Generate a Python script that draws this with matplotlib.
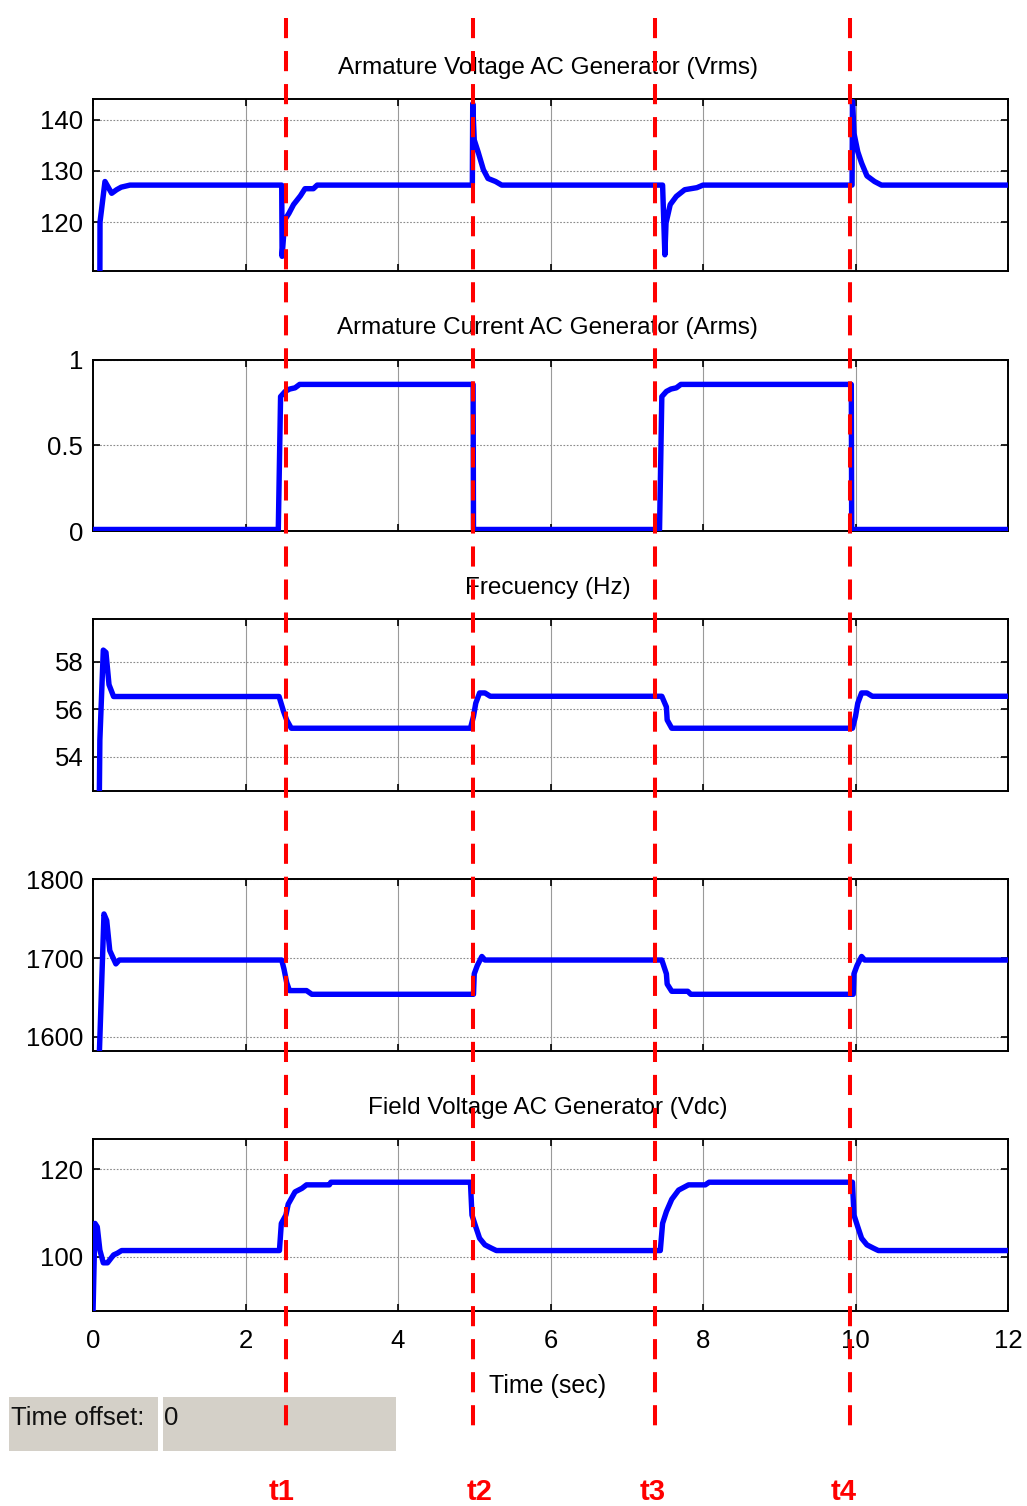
import matplotlib
matplotlib.use("Agg")
import matplotlib.pyplot as plt
from matplotlib.lines import Line2D
from matplotlib.patches import Rectangle
from matplotlib.transforms import blended_transform_factory

plt.rcParams["font.family"] = ["Liberation Sans Narrow", "Liberation Sans", "DejaVu Sans"]

# ---- measured signals (time in seconds) ----
voltage_t = [0.09, 0.092, 0.157, 0.245, 0.31, 0.37, 0.485,
             2.475, 2.48, 2.515, 2.57, 2.63, 2.72, 2.78, 2.89, 2.94,
             4.975, 4.98, 5.00, 5.05, 5.12, 5.18, 5.28, 5.36,
             7.47, 7.50, 7.515, 7.57, 7.65, 7.76, 7.92, 8.00,
             9.955, 9.96, 9.98, 10.03, 10.08, 10.15, 10.25, 10.34, 12.0]
voltage_v = [108.0, 120.0, 127.9, 125.6, 126.3, 126.8, 127.2,
             127.2, 113.3, 120.4, 121.7, 123.4, 125.1, 126.5, 126.5, 127.2,
             127.2, 143.1, 136.0, 133.7, 130.2, 128.5, 127.9, 127.2,
             127.2, 113.6, 119.8, 123.4, 125.0, 126.3, 126.7, 127.2,
             127.2, 143.6, 137.3, 133.7, 131.5, 129.0, 127.9, 127.2, 127.2]

current_t = [0.0, 2.43, 2.46, 2.52, 2.58, 2.65, 2.71, 4.985, 4.99,
             7.43, 7.46, 7.52, 7.58, 7.65, 7.71, 9.945, 9.95, 12.0]
current_v = [0.01, 0.01, 0.784, 0.814, 0.828, 0.835, 0.855, 0.855, 0.01,
             0.01, 0.784, 0.814, 0.828, 0.835, 0.855, 0.855, 0.01, 0.01]

freq_t = [0.083, 0.09, 0.135, 0.17, 0.21, 0.27,
          2.44, 2.50, 2.54, 2.60,
          4.95, 4.99, 5.02, 5.07, 5.14, 5.21,
          7.46, 7.52, 7.53, 7.59,
          9.96, 10.00, 10.03, 10.08, 10.15, 10.22, 12.0]
freq_v = [52.3, 54.7, 58.5, 58.4, 57.04, 56.54,
          56.54, 55.9, 55.55, 55.2,
          55.2, 55.7, 56.26, 56.69, 56.69, 56.55,
          56.55, 56.1, 55.55, 55.2,
          55.2, 55.7, 56.26, 56.69, 56.69, 56.55, 56.55]

speed_t = [0.083, 0.144, 0.18, 0.22, 0.30, 0.345,
           2.475, 2.505, 2.54, 2.576, 2.80, 2.87,
           4.99, 5.00, 5.04, 5.10, 5.14,
           7.46, 7.52, 7.53, 7.59, 7.80, 7.84,
           9.97, 9.98, 10.02, 10.08, 10.12, 12.0]
speed_v = [1578, 1756, 1747.6, 1709.5, 1692.6, 1697.5,
           1697.5, 1686, 1669, 1658.7, 1658.7, 1654,
           1654, 1680, 1690.5, 1702, 1697.5,
           1697.5, 1680, 1667, 1657.8, 1657.8, 1654,
           1654, 1680, 1690.5, 1702, 1697.5, 1697.5]

field_t = [0.0, 0.026, 0.056, 0.09, 0.135, 0.19, 0.27, 0.32, 0.375,
           2.445, 2.47, 2.53, 2.56, 2.65, 2.74, 2.80, 3.10, 3.12,
           4.95, 4.97, 5.02, 5.07, 5.14, 5.23, 5.29,
           7.44, 7.47, 7.52, 7.59, 7.68, 7.81, 8.03, 8.08,
           9.96, 9.98, 10.03, 10.08, 10.15, 10.24, 10.30, 12.0]
field_v = [87.0, 107.6, 106.8, 101.5, 98.6, 98.6, 100.4, 100.8, 101.4,
           101.4, 107.6, 109.5, 112.0, 114.8, 115.6, 116.4, 116.4, 117.0,
           117.0, 109.5, 106.8, 104.2, 102.7, 101.9, 101.4,
           101.4, 107.6, 110.3, 113.1, 115.2, 116.4, 116.4, 117.0,
           117.0, 109.5, 106.8, 104.2, 102.7, 101.9, 101.4, 101.4]

# switching events
event_times = [2.53, 4.98, 7.37, 9.93]
event_labels = ["t1", "t2", "t3", "t4"]

panel_titles = ["Armature Voltage AC Generator (Vrms)",
                "Armature Current AC Generator (Arms)",
                "Frecuency (Hz)",
                "",
                "Field Voltage AC Generator (Vdc)"]
panel_yticks = [[120, 130, 140], [0, 0.5, 1], [54, 56, 58], [1600, 1700, 1800], [100, 120]]
panel_yticklabels = [["120", "130", "140"], ["0", "0.5", "1"], ["54", "56", "58"],
                     ["1600", "1700", "1800"], ["100", "120"]]
x_ticks = [0, 2, 4, 6, 8, 10, 12]

# ---- layout (figure pixels) ----
W, H = 1027, 1506
fig = plt.figure(figsize=(W / 100, H / 100), dpi=100)
fig.patch.set_facecolor("white")

ax_left, ax_right = 93, 1008
panel_tops = [99, 359.5, 619.3, 879.3, 1139.3]
panel_h = 171.7
ylims = [(110.5, 144.0), (0.0, 1.0), (52.55, 59.8), (1582, 1800), (87.6, 126.8)]

series = [(voltage_t, voltage_v), (current_t, current_v), (freq_t, freq_v),
          (speed_t, speed_v), (field_t, field_v)]

axes = []
for i, top in enumerate(panel_tops):
    ax = fig.add_axes([ax_left / W, 1 - (top + panel_h) / H,
                       (ax_right - ax_left) / W, panel_h / H])
    axes.append(ax)
    t, v = series[i]
    ax.plot(t, v, color="#0000ff", lw=3.9, solid_joinstyle="round", zorder=3)
    ax.set_xlim(0, 12)
    ax.set_ylim(*ylims[i])
    ax.set_xticks(x_ticks)
    ax.set_yticks(panel_yticks[i])
    ax.set_yticklabels(panel_yticklabels[i])
    for yt in panel_yticks[i]:
        ax.axhline(yt, color="#8a8a8a", lw=0.8, ls=(0, (1.5, 1.5)), zorder=1)
    for xt in x_ticks[1:-1]:
        ax.axvline(xt, color="#9a9a9a", lw=0.8, zorder=1)
    ax.tick_params(direction="in", length=5, width=1.2, top=True, right=True,
                   labelsize=18.5, colors="black")
    ax.tick_params(axis="y", pad=7)
    ax.tick_params(axis="x", pad=13)
    if i < 4:
        ax.tick_params(labelbottom=False)
    for sp in ax.spines.values():
        sp.set_linewidth(1.4)
        sp.set_color("black")
    if panel_titles[i]:
        ax.annotate(panel_titles[i], xy=(0.5, 1.0), xycoords="axes fraction",
                    xytext=(-2, 22.5), textcoords="offset points",
                    ha="center", va="center", fontsize=17.5)

fig.text(548 / W, 1 - 1386 / H, "Time (sec)", ha="center", va="center", fontsize=18)

# control panel strip
fig.patches.append(Rectangle((9 / W, 1 - 1451 / H), 149 / W, 54 / H,
                             transform=fig.transFigure, facecolor="#d4d0c8",
                             edgecolor="none", zorder=1))
fig.patches.append(Rectangle((163 / W, 1 - 1451 / H), 233 / W, 54 / H,
                             transform=fig.transFigure, facecolor="#d4d0c8",
                             edgecolor="none", zorder=1))
fig.text(11 / W, 1 - 1418 / H, "Time offset:", ha="left", va="center",
         fontsize=18.5, color="#111111")
fig.text(164 / W, 1 - 1418 / H, "0", ha="left", va="center",
         fontsize=18.5, color="#111111")

# event markers spanning all panels
trans = blended_transform_factory(axes[-1].transData, fig.transFigure)
label_shift = [-4, 7, -2, -7]
for te, lab, dx in zip(event_times, event_labels, label_shift):
    ln = Line2D([te, te], [1 - 18 / H, 1 - 1435 / H], transform=trans,
                color="#ff0000", lw=2.9, dashes=[5, 3.2], zorder=10)
    fig.add_artist(ln)
    fig.text(te + dx / 76.25, 1 - 1492 / H, lab, transform=trans,
             ha="center", va="center", fontsize=21, fontweight="bold",
             color="#ff0000", family=["Liberation Sans", "DejaVu Sans"])

fig.savefig("out.png", dpi=100)
